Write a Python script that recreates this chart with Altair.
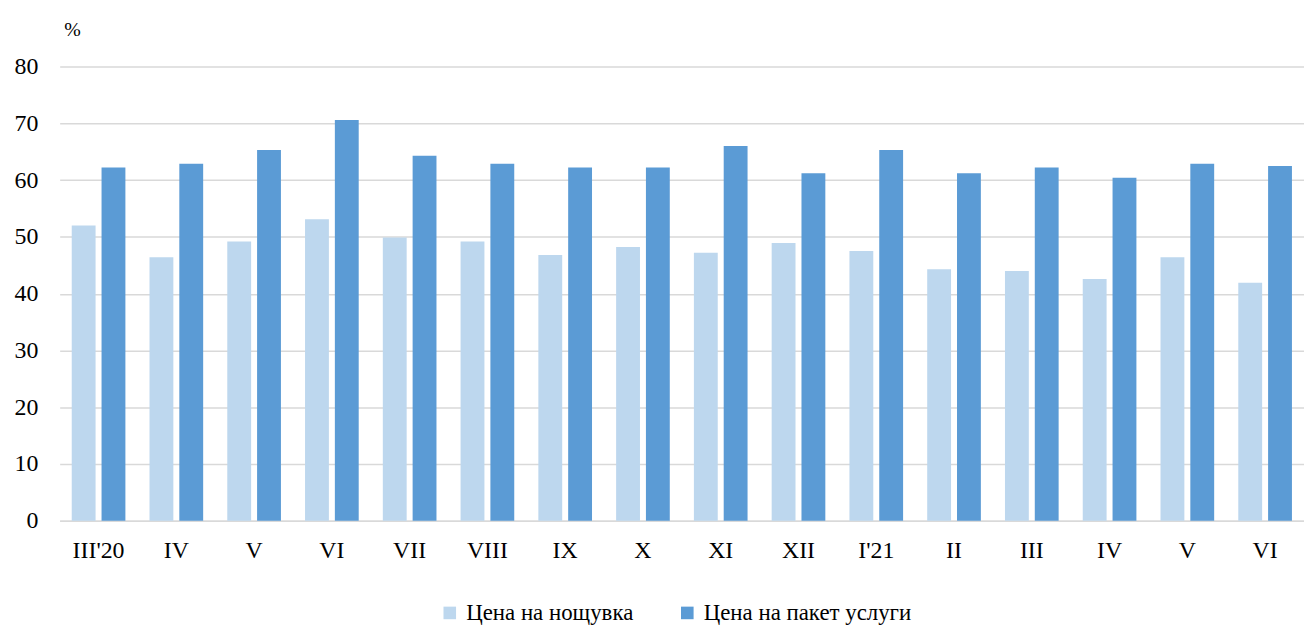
import altair as alt
import pandas as pd

labels = ["III'20", "IV", "V", "VI", "VII", "VIII", "IX", "X", "XI", "XII",
          "I'21", "II", "III", "IV", "V", "VI"]
keys = [f"{i:02d}" for i in range(len(labels))]
series = ["Цена на нощувка", "Цена на пакет услуги"]
night = [52.0, 46.4, 49.2, 53.1, 49.9, 49.2, 46.8, 48.2, 47.2, 48.9,
         47.5, 44.3, 44.0, 42.6, 46.4, 41.9]
package = [62.2, 62.9, 65.3, 70.6, 64.3, 62.9, 62.2, 62.2, 66.0, 61.2,
           65.3, 61.2, 62.2, 60.4, 62.9, 62.5]
y_ticks = [0, 10, 20, 30, 40, 50, 60, 70, 80]
colors = ["#BDD7EE", "#5B9BD5"]

rows = []
for k, a, b in zip(keys, night, package):
    rows.append({"k": k, "s": series[0], "v": a})
    rows.append({"k": k, "s": series[1], "v": b})
df = pd.DataFrame(rows)

label_expr = "[" + ",".join('"' + l + '"' for l in labels) + "][toNumber(datum.value)]"
FONT = "Liberation Serif, Times New Roman, serif"

chart = alt.Chart(df).mark_bar().encode(
    x=alt.X("k:N", sort=keys,
            scale=alt.Scale(paddingInner=0.31, paddingOuter=0.155),
            axis=alt.Axis(title=None, labelExpr=label_expr, labelAngle=0, ticks=False,
                          domainColor="#d9d9d9", domainWidth=1.5, labelFontSize=24,
                          labelPadding=18, labelFont=FONT, labelColor="black", grid=False)),
    xOffset=alt.XOffset("s:N", sort=series, scale=alt.Scale(paddingInner=0.2, paddingOuter=0)),
    y=alt.Y("v:Q", scale=alt.Scale(domain=[0, 80], nice=False),
            axis=alt.Axis(values=y_ticks, title="%", titleAngle=0, titleX=4, titleY=-37,
                          titleAlign="left", titleBaseline="middle", titleFontSize=20,
                          titleFontWeight="normal", titleFont=FONT, titleColor="black",
                          domain=False, ticks=False, labelPadding=22, labelFontSize=24,
                          labelFont=FONT, labelColor="black",
                          gridColor="#d9d9d9", gridWidth=1.5)),
    color=alt.Color("s:N", sort=series,
                    scale=alt.Scale(domain=series, range=colors),
                    legend=alt.Legend(title=None, orient="none", legendX=381, legendY=538,
                                      direction="horizontal", symbolType="square",
                                      symbolSize=160, labelFontSize=23, labelFont=FONT,
                                      labelColor="black", columnPadding=42, labelOffset=5,
                                      symbolStrokeWidth=0, labelLimit=400)),
).properties(
    width=1252, height=457,
    padding={"left": 52, "top": 57, "right": 0, "bottom": 104},
    autosize=alt.AutoSizeParams(type="none"),
).configure(font=FONT).configure_view(stroke=None)

chart.save("out.html", embed_options={"renderer": "svg", "actions": False})
